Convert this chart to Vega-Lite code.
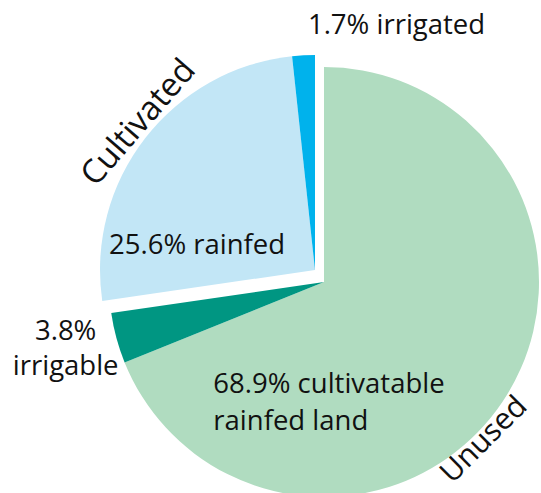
{
  "$schema": "https://vega.github.io/schema/vega-lite/v6.json",
  "width": 541,
  "height": 493,
  "autosize": "none",
  "padding": 0,
  "background": "white",
  "config": {"view": {"stroke": null}},
  "data": {
    "values": [
      {"part": "cultivatable rainfed land", "group": "Unused", "value": 68.9, "order": 1},
      {"part": "irrigable", "group": "Unused", "value": 3.8, "order": 2},
      {"part": "rainfed", "group": "Cultivated", "value": 25.6, "order": 3},
      {"part": "irrigated", "group": "Cultivated", "value": 1.7, "order": 4}
    ]
  },
  "encoding": {
    "theta": {"field": "value", "type": "quantitative", "stack": true},
    "order": {"field": "order", "type": "quantitative"},
    "x": {"value": 324},
    "y": {"value": 282}
  },
  "layer": [
    {
      "mark": {"type": "arc", "radius": 215},
      "encoding": {
        "color": {"field": "part", "type": "nominal", "legend": null,
          "scale": {"domain": ["cultivatable rainfed land", "irrigable", "rainfed", "irrigated"],
                    "range": ["#b0dcc0", "#009682", "#c2e6f6", "#00b2ec"]}},
        "opacity": {"condition": {"test": "datum.group === 'Unused'", "value": 1}, "value": 0}
      }
    },
    {
      "mark": {"type": "arc", "radius": 215, "xOffset": -9, "yOffset": -12},
      "encoding": {
        "color": {"field": "part", "type": "nominal", "legend": null},
        "opacity": {"condition": {"test": "datum.group === 'Cultivated'", "value": 1}, "value": 0}
      }
    },
    {
      "mark": {"type": "text", "radius": 245, "xOffset": -9, "yOffset": -12, "align": "left", "baseline": "middle", "dx": 6, "dy": 1, "font": "Open Sans", "fontSize": 27.5, "fill": "#111"},
      "encoding": {"text": {"condition": {"test": "datum.part === 'irrigated'", "value": "1.7% irrigated"}, "value": ""}}
    },
    {
      "mark": {"type": "text", "radius": 225, "xOffset": -9, "yOffset": -12, "align": "center", "baseline": "middle", "dx": 8, "dy": -5, "angle": 311, "font": "Open Sans", "fontSize": 33, "fill": "#111"},
      "encoding": {"text": {"condition": {"test": "datum.part === 'rainfed'", "value": "Cultivated"}, "value": ""}}
    },
    {
      "mark": {"type": "text", "radius": 110, "xOffset": -9, "yOffset": -12, "align": "center", "baseline": "middle", "dx": -31, "dy": 43, "font": "Open Sans", "fontSize": 27.5, "fill": "#111"},
      "encoding": {"text": {"condition": {"test": "datum.part === 'rainfed'", "value": "25.6% rainfed"}, "value": ""}}
    },
    {
      "mark": {"type": "text", "radius": 250, "align": "center", "baseline": "middle", "dx": -17, "dy": -15, "lineHeight": 35, "font": "Open Sans", "fontSize": 27.5, "fill": "#111"},
      "encoding": {"text": {"condition": {"test": "datum.part === 'irrigable'", "value": ["3.8%", "irrigable"]}, "value": ""}}
    },
    {
      "mark": {"type": "text", "radius": 150, "align": "left", "baseline": "middle", "dx": -235, "dy": 19, "lineHeight": 37, "font": "Open Sans", "fontSize": 27.5, "fill": "#111"},
      "encoding": {"text": {"condition": {"test": "datum.part === 'cultivatable rainfed land'", "value": ["68.9% cultivatable", "rainfed land"]}, "value": ""}}
    },
    {
      "mark": {"type": "text", "radius": 234, "align": "center", "baseline": "middle", "dx": -43, "dy": -5, "angle": 315, "font": "Open Sans", "fontSize": 30, "fill": "#111"},
      "encoding": {"text": {"condition": {"test": "datum.part === 'cultivatable rainfed land'", "value": "Unused"}, "value": ""}}
    }
  ]
}
